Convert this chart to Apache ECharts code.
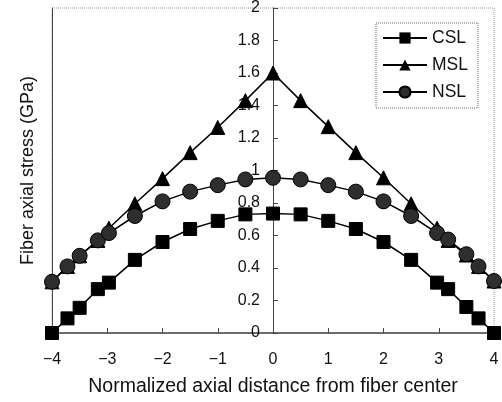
<!DOCTYPE html>
<html><head><meta charset="utf-8">
<script src="https://cdn.jsdelivr.net/npm/echarts@6/dist/echarts.min.js"></script>
<style>html,body{margin:0;padding:0;background:#fff}#c{width:502px;height:402px}</style>
</head><body><div id="c"></div>
<script>
var xs = [-4, -3.72, -3.5, -3.17, -2.97, -2.5, -2, -1.5, -1, -0.5, 0, 0.5, 1, 1.5, 2, 2.5, 2.97, 3.17, 3.5, 3.72, 4];
var csl = [0, 0.09, 0.155, 0.27, 0.31, 0.45, 0.56, 0.64, 0.69, 0.73, 0.735, 0.73, 0.69, 0.64, 0.56, 0.45, 0.31, 0.27, 0.16, 0.09, 0];
var msl = [0.315, 0.41, 0.475, 0.57, 0.645, 0.795, 0.95, 1.11, 1.265, 1.43, 1.6, 1.43, 1.27, 1.11, 0.955, 0.795, 0.645, 0.57, 0.48, 0.41, 0.32];
var nsl = [0.315, 0.41, 0.475, 0.57, 0.615, 0.72, 0.81, 0.87, 0.91, 0.945, 0.955, 0.945, 0.91, 0.87, 0.81, 0.72, 0.615, 0.575, 0.485, 0.41, 0.32];
var seriesNames = ['CSL', 'MSL', 'NSL'];
var xTitle = 'Normalized axial distance from fiber center';
var yTitle = 'Fiber axial stress (GPa)';

function pairs(v){ return xs.map(function(x,i){ return [x, v[i]]; }); }
var font = 'Liberation Sans, Arial, sans-serif';
var gridLeft = 52, gridRight = 8;
var plotW = 502 - gridLeft - gridRight;
var zeroOffset = -plotW / 2; // place value axis at x = 0 (x range is symmetric)
var chart = echarts.init(document.getElementById('c'));
chart.setOption({
  backgroundColor: '#fff',
  animation: false,
  grid: { left: gridLeft, right: gridRight, top: 8, bottom: 68, show: true, borderColor: '#999', borderWidth: 1, borderType: 'dotted' },
  legend: {
    left: 376, top: 23, orient: 'vertical', padding: [6, 10, 7, 6], itemGap: 9,
    itemWidth: 44, itemHeight: 14,
    borderColor: '#666', borderWidth: 1, borderType: 'dotted', backgroundColor: '#fff',
    textStyle: { fontFamily: font, fontSize: 17.5, color: '#111' },
    data: seriesNames
  },
  xAxis: {
    type: 'value', min: -4, max: 4, interval: 1,
    name: xTitle, nameLocation: 'middle', nameGap: 44,
    nameTextStyle: { fontFamily: font, fontSize: 19.5, color: '#111' },
    axisLine: { onZero: false, lineStyle: { color: '#444', width: 1.5 } },
    axisTick: { inside: true, length: 5, lineStyle: { color: '#444' } },
    axisLabel: { margin: 19, fontFamily: font, fontSize: 16, color: '#111',
      formatter: function(v){ return String(v).replace('-', '\u2212'); } },
    splitLine: { show: false }
  },
  yAxis: [{
    type: 'value', min: 0, max: 2, interval: 0.2, position: 'left', offset: zeroOffset,
    axisLine: { show: true, onZero: false, lineStyle: { color: '#444', width: 1 } },
    axisTick: { show: true, inside: true, length: 5, lineStyle: { color: '#444' } },
    axisLabel: { margin: 13, fontFamily: font, fontSize: 16, color: '#111',
      formatter: function(v){ return String(Math.round(v*10)/10); } },
    splitLine: { show: false }
  }, {
    type: 'value', min: 0, max: 2, position: 'left', offset: 0,
    name: yTitle, nameLocation: 'middle', nameGap: 15,
    nameTextStyle: { fontFamily: font, fontSize: 18, color: '#111' },
    axisLine: { show: true, onZero: false, lineStyle: { color: '#444', width: 1 } },
    axisTick: { show: false }, axisLabel: { show: false }, splitLine: { show: false }
  }],
  series: [{
    name: 'CSL', type: 'line', data: pairs(csl), symbol: 'rect', symbolSize: 13,
    lineStyle: { color: '#000', width: 1.5 }, itemStyle: { color: '#000', borderColor: '#000' }
  }, {
    name: 'MSL', type: 'line', data: pairs(msl), symbol: 'triangle', symbolSize: 14,
    lineStyle: { color: '#000', width: 1.5 }, itemStyle: { color: '#000', borderColor: '#000' }
  }, {
    name: 'NSL', type: 'line', data: pairs(nsl), symbol: 'circle', symbolSize: 15,
    lineStyle: { color: '#000', width: 1.5 }, itemStyle: { color: '#2e2e2e', borderColor: '#000', borderWidth: 1 }
  }]
});
</script></body></html>
